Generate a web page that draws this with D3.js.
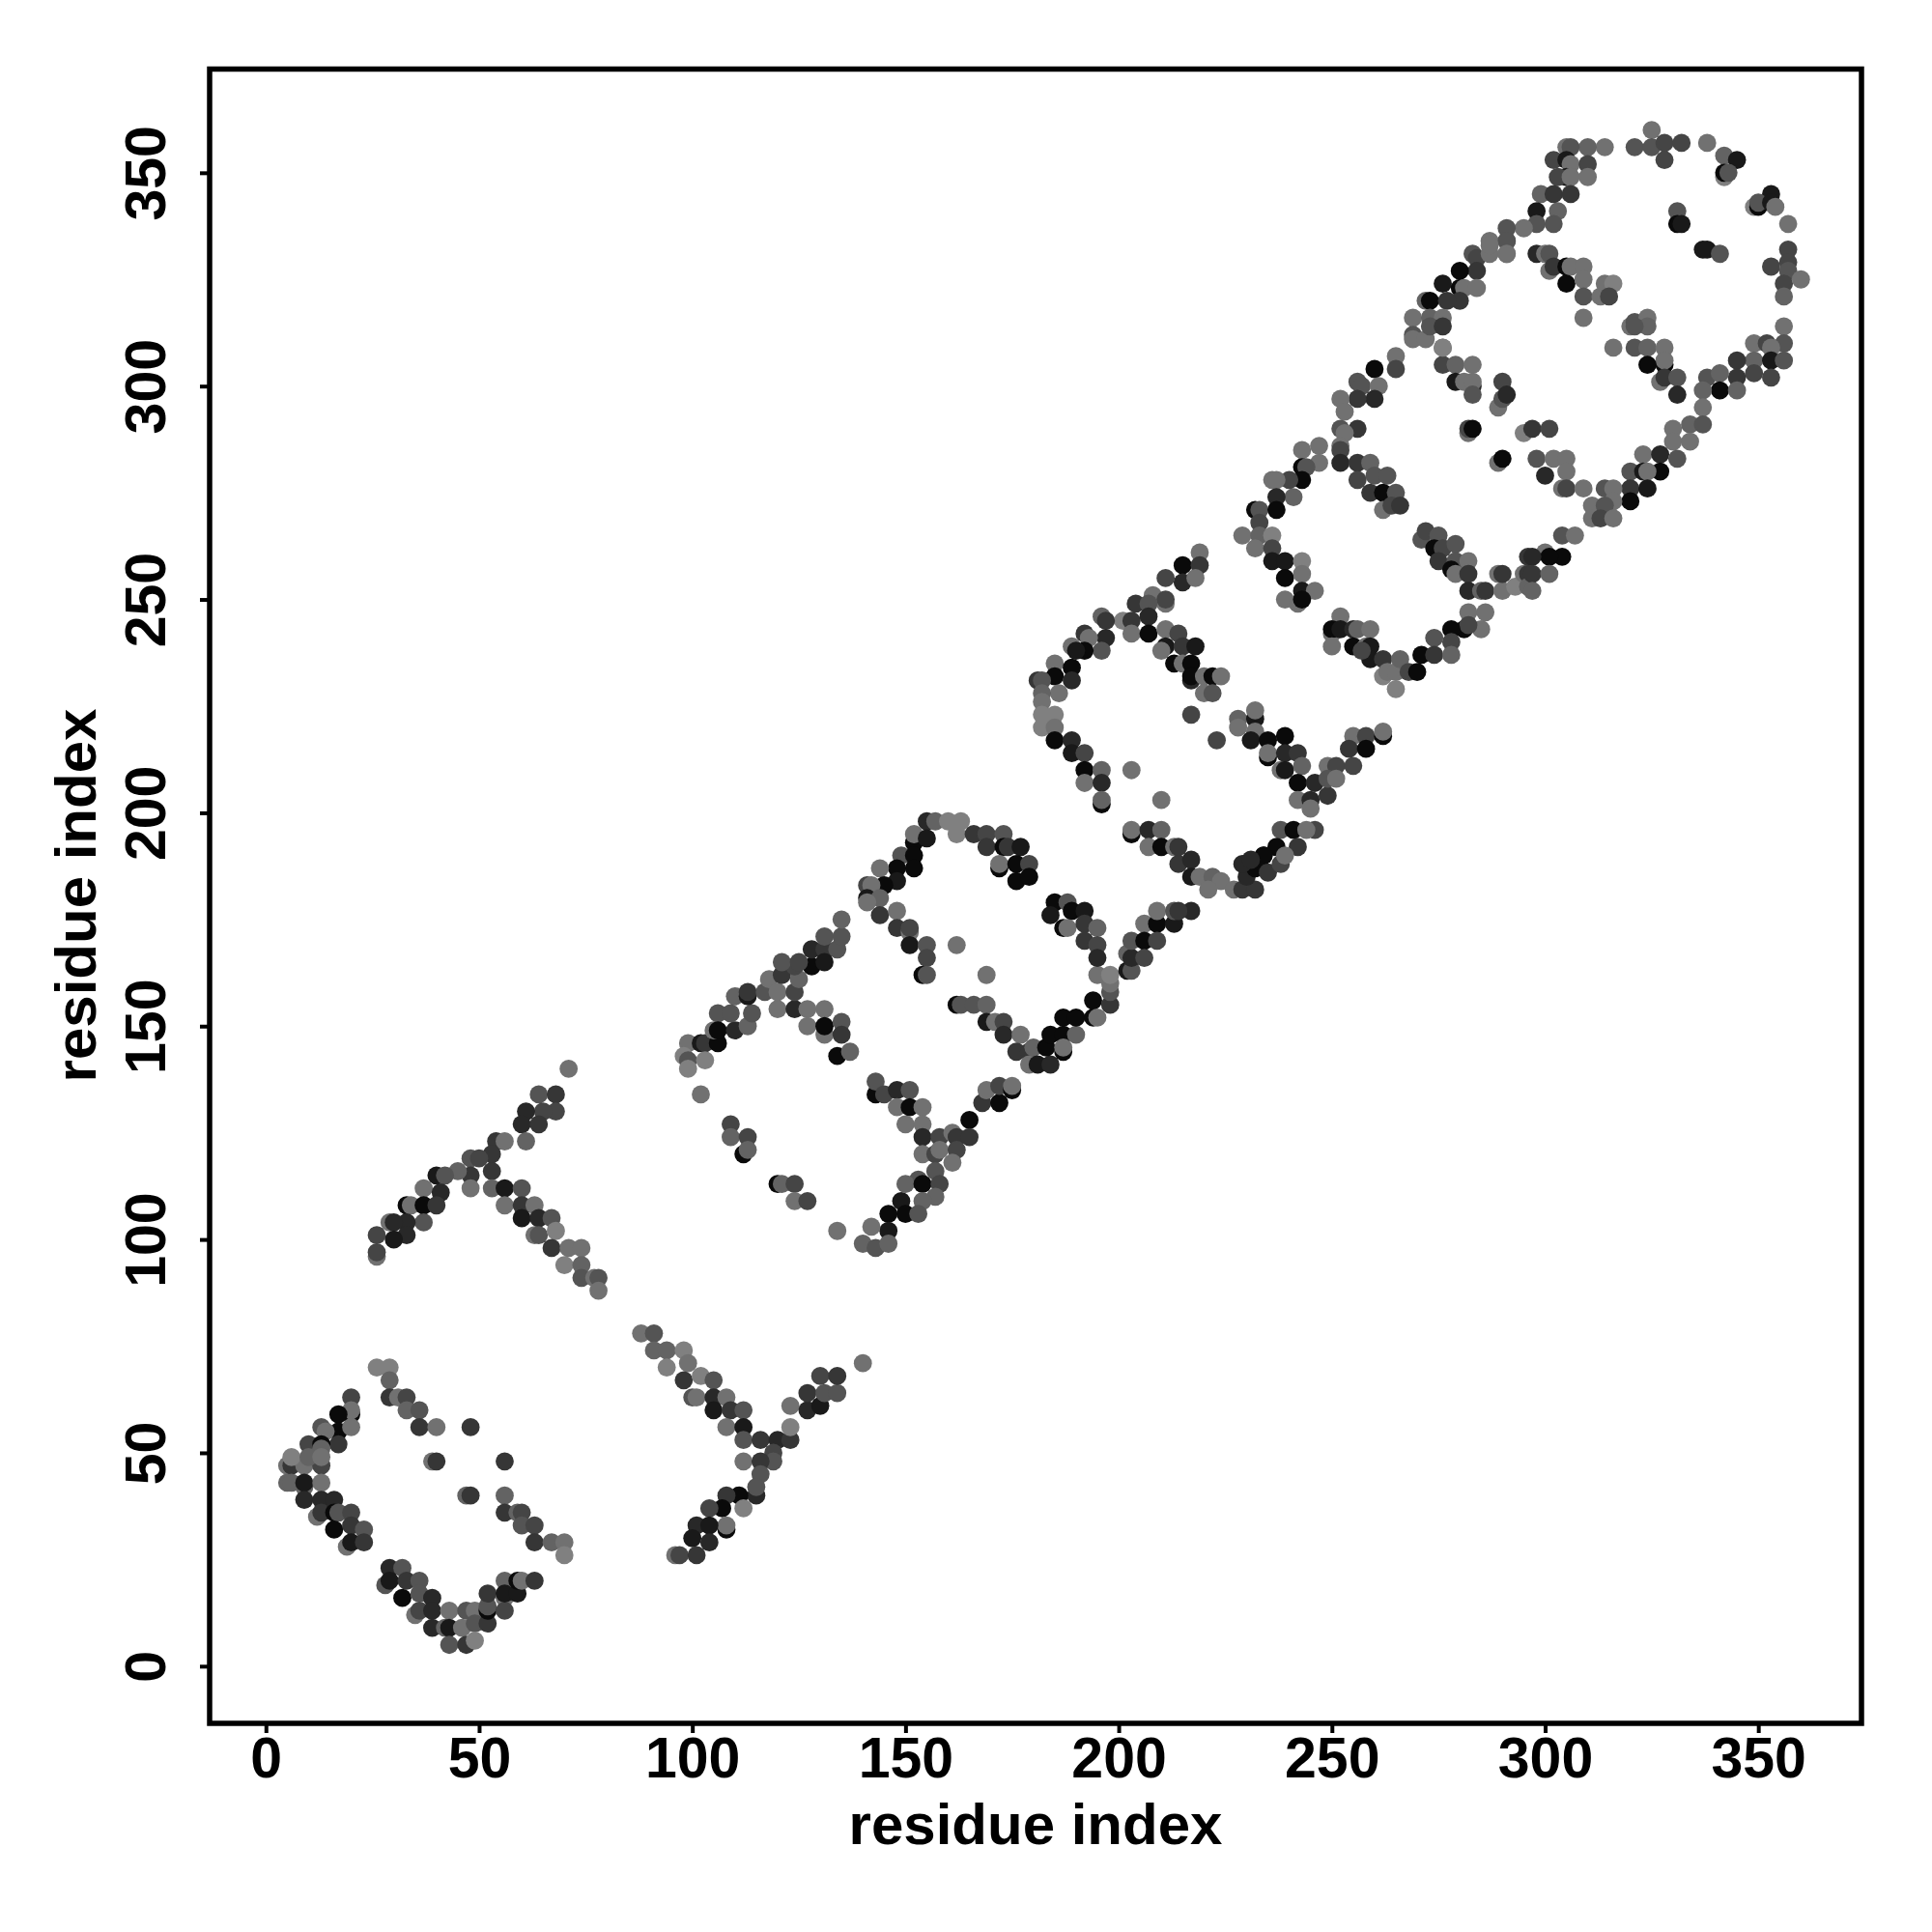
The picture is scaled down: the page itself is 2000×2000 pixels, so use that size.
<!DOCTYPE html>
<html><head><meta charset="utf-8">
<script src="https://cdn.jsdelivr.net/npm/d3@7"></script>
<style>html,body{margin:0;background:#fff}svg{display:block}text{font-family:"Liberation Sans",Arial,sans-serif;font-weight:700;fill:#000}</style>
</head><body><svg id="c" width="2000" height="2000"></svg>
<script>
// each contact: [residue i, residue j, shade level 0 (darkest) .. 8 (lightest)]
const tickValues=[0,50,100,150,200,250,300,350];
const axisTitle="residue index";
const lobeA=[[26,70,8],[29,70,8],[29,67,6],[29,63,3],[31,63,7],[33,63,4],[33,60,6],[36,60,5],[36,56,3],[40,56,7],[48,56,3],[39,48,7],[40,48,3],[56,48,3],[47,40,6],[48,40,3],[56,40,6],[56,36,3],[59,36,6],[60,36,4],[60,33,5],[63,33,4],[63,29,3],[67,29,6],[70,29,7],[70,26,8],
[20,59,0],[20,63,4],[20,60,7],[17,59,0],[17,55,0],[20,56,7],[13,56,5],[14,55,7],[17,52,3],[10,52,4],[13,52,0],[13,51,6],[5,47,7],[6,47,3],[9,47,7],[13,47,4],[6,49,8],[10,49,6],[13,49,7],[9,42,6],[5,43,6],[6,43,6],[9,43,1],[13,43,7],[9,39,2],[13,39,2],[16,39,2],[12,35,7],[13,36,3],[16,36,0],[17,36,5],[20,36,4],[16,32,0],[20,33,3],[23,32,5],[19,28,7],[20,29,1],[23,29,3],
[28,19,5],[29,23,2],[32,23,5],[29,20,1],[33,20,3],[36,20,5],[32,16,0],[36,17,5],[39,16,2],[35,12,7],[36,13,4],[39,13,2],[39,9,2],[43,13,7],[42,9,6],[43,9,1],[43,5,5],[47,13,5],[49,13,7],[46,9,7],[49,10,5],[47,5,3],[49,6,8],[52,10,3],[52,13,0],[52,14,5],[52,17,3],[56,16,7],[56,13,4],[56,20,6],[56,17,1],[59,17,1],[59,20,0],[60,20,7],[63,20,3]];
const armB=[[71,140,7],[64,134,5],[68,134,3],[68,130,4],[65,130,4],[61,130,2],[60,127,2],[64,127,3],[61,123,6],[54,123,3],[56,123,7],[53,120,3],[48,119,5],[50,119,4],[53,116,3],[48,115,3],[45,116,6],[40,115,1],[42,115,5],[48,112,7],[53,112,6],[56,112,1],[60,112,5],[37,112,7],[41,111,2],[56,108,7],[60,108,3],[63,108,7],[33,108,0],[34,108,7],[37,108,0],[40,108,3],[60,105,1],[64,105,2],[67,105,5],[37,104,5],[29,104,7],[33,104,2],[30,104,2],[63,101,7],[64,101,5],[68,102,8],[33,101,2],[30,100,1],[26,101,4],[26,96,7],[26,97,4],[67,98,3],[71,98,7],[74,98,7],[70,94,8],[74,94,6],[74,91,5],[77,91,7],[78,91,5],[78,88,7]];
const armC=[[88,78,7],[91,78,5],[91,74,6],[94,74,6],[98,74,8],[94,70,8],[99,71,7],[98,67,3],[102,68,8],[105,67,5],[100,63,5],[101,63,7],[105,63,2],[108,63,7],[105,60,1],[109,60,3],[112,60,5],[108,56,7],[112,56,1],[112,53,5],[116,53,3],[120,53,2],[123,53,3],[123,56,8],[123,61,7],[127,60,2],[130,61,1],[127,64,3],[131,64,5],[134,64,5],[130,68,4],[134,68,3],[140,71,7],[119,50,4],[119,48,5],[112,48,7],[116,48,3],[116,45,5],[115,40,2],[115,42,5],[111,40,0],[108,40,3],[107,37,0],[112,37,8],[104,37,4],[108,32,0],[108,33,7],[101,33,2],[104,33,1],[100,30,1],[104,29,2],[96,26,7],[97,26,4],[101,26,3]];
const lobeD=[[102,134,7],[109,127,4],[109,124,6],[113,124,4],[112,120,0],[113,121,6],[120,113,0],[121,113,6],[124,113,4],[124,109,7],[127,109,4],[134,102,7],
[99,146,7],[98,143,8],[99,142,5],[99,140,8],[102,146,1],[103,146,3],[103,142,8],[106,146,0],[106,153,5],[105,149,7],[106,149,0],[110,149,2],[113,150,6],[114,153,5],[110,157,6],[109,153,5],[113,157,1],[113,158,3],[117,158,5],[118,161,7],[120,154,7],[120,158,7],[121,162,3],[124,154,2],[124,158,4],[125,161,6],[124,164,4],[128,164,0],[127,154,7],[131,154,7],[127,150,7],[131,148,7],[131,150,0],[135,151,5],[135,148,3],[134,143,0],[137,144,6],
[121,165,5],[125,165,4],[128,168,2],[131,168,3],[134,168,5],[131,171,5],[135,171,5],[135,175,6],[131,165,1],
[143,134,0],[143,137,5],[145,134,4],[148,135,2],[151,135,5],[148,131,7],[151,131,0],[154,131,7],[150,127,7],[154,127,7],[154,124,2],[158,124,4],[154,120,7],[157,120,4],[158,121,7],[161,125,7],[162,124,3],[165,128,0],[165,124,3],[162,121,4],[161,118,7],[157,116,5],[153,114,5],[150,113,6],[154,113,0],[158,113,4],[157,110,6],[154,109,6],[149,109,1],[150,106,0],[153,106,5],[146,106,0],[146,102,1],[142,103,7],[140,99,6],[143,98,5],[146,99,6]];
const lobeE=[[155,198,2],[157,198,6],[160,198,8],[163,198,8],[162,195,8],[152,193,0],[152,195,7],[155,194,1],[166,195,3],[169,195,4],[173,195,5],[169,192,3],[173,192,0],[174,192,3],[177,192,1],[172,187,0],[172,188,7],[176,188,0],[179,188,4],[176,184,0],[179,185,0],[149,190,5],[152,190,0],[152,187,0],[148,187,0],[144,187,7],[148,184,1],[145,183,0],[141,183,4],[142,183,7],[141,180,1],[144,180,6],[141,179,7],[144,176,3],[148,177,7],[148,173,3],[151,172,7],[151,173,4],[151,169,1],[155,169,5],[155,166,4],[154,162,0],[155,162,5],[162,169,7],[169,162,7],[162,155,0],[163,155,5],[166,155,5],[169,155,6],[169,151,1],[171,151,7],[173,151,4],[173,148,2],[177,148,7],[176,144,3],[179,144,3],[179,141,7],[180,145,6],[181,141,1],[184,141,2],[183,145,0],[184,148,0],[187,148,0],[187,144,0],[187,145,7],[190,148,6],[187,152,0],[190,152,0],[194,156,0],[198,155,3],[194,152,0],[195,152,7],[198,158,5],[198,160,7],[195,162,7],[198,162,8],
[185,179,0],[184,176,1],[188,179,5],[189,177,0],[192,177,1],[187,173,0],[188,173,7],[192,174,3],[195,173,6],[192,170,3],[195,169,4],[195,166,2],[202,163,1],[203,163,5],[202,167,6],[203,166,2],[203,170,5],[206,174,7],[206,170,0],[206,166,4],[209,174,0],[209,177,7],[209,170,4],[213,174,1],[213,177,5],[217,177,2],[214,177,3],
[168,132,3],[172,132,0],[169,135,7],[172,136,4],[175,135,0],[175,136,7]];
const lobeF=[[219,261,7],[215,258,0],[219,258,3],[211,255,4],[215,254,2],[218,255,7],[208,251,7],[211,249,7],[211,250,4],[204,249,3],[207,249,5],[201,245,8],[203,245,3],[207,246,2],[203,242,7],[207,242,0],[196,246,6],[197,245,3],[197,241,2],[196,238,5],[192,242,3],[193,241,7],[192,238,0],[189,239,7],[190,238,1],[185,235,7],[189,234,0],[185,232,0],[189,231,2],[186,228,7],[181,231,3],[182,231,5],[182,228,6],[182,226,7],[182,223,8],[185,223,8],[182,220,8],[185,220,7],[185,217,0],[189,217,2],[189,214,1],[192,214,4],[192,210,0],[192,207,7],[196,210,6],[196,207,2],[196,202,0],[196,203,6],[203,210,7],[210,203,7],
[203,195,0],[203,196,7],[207,196,2],[210,196,6],[207,192,7],[210,192,0],[213,192,7],[214,192,3],[214,188,3],[217,189,2],[217,185,1],[219,185,7],[222,185,6],[224,184,7],[221,182,7],[227,182,7],[229,182,3],[232,182,3],[230,185,2],[232,187,0],[229,188,2],[235,186,3],[234,190,1],[238,188,4],
[211,243,7],[211,239,1],[210,238,7],[214,242,4],[215,239,3],[218,239,1],[213,235,0],[215,235,7],[217,235,0],[217,231,2],[217,232,0],[220,232,7],[222,232,0],[224,232,7],[220,228,7],[222,228,5],[217,223,4],[223,217,4],[228,222,6],[228,220,7],[232,222,1],[232,224,7],[232,219,7],[231,217,1],[235,217,0],[239,218,0],[235,213,0],[235,214,7],[239,214,2],[242,214,3],[238,210,7],[239,210,1],[243,211,6],[242,207,0],[246,207,2],[242,203,7],[245,203,2],[249,204,3],[245,201,7],[249,211,7],[251,211,4],[249,208,5],[255,211,4],[251,208,7],
[255,218,7],[258,218,4],[262,218,0],[262,219,7],[254,215,3],[258,215,0],
[238,196,5],[241,196,0],[246,196,4],[244,196,7],[237,192,0],[242,192,3],[234,190,0],[231,189,2],[239,190,7]];
const lobeG=[[265,307,7],[265,304,4],[260,304,0],[256,301,5],[257,300,5],[261,300,7],[260,297,2],[256,297,3],[252,297,7],[253,294,7],[256,290,3],[252,290,5],[253,289,7],[252,286,7],[252,285,4],[252,282,2],[247,286,7],[243,285,7],[247,282,7],[243,281,0],[244,281,5],[243,278,0],[240,278,4],[236,278,7],[237,278,7],[241,274,6],[237,274,2],[232,271,0],[233,271,5],[237,271,0],[233,268,4],[229,265,7],[233,265,6],[236,265,8],[232,262,7],[236,262,4],[236,259,1],[239,259,1],[243,259,8],[239,255,0],[243,256,7],[243,252,1],[246,252,7],[239,250,7],[242,249,7],[243,250,0],
[252,246,7],[250,242,7],[250,243,0],[252,243,1],[250,239,7],[255,243,2],[256,243,6],[259,243,7],[255,239,0],[258,239,7],[259,239,1],[259,236,1],[262,236,3],[257,238,4],[262,232,8],[263,233,7],[265,233,7],[265,229,8],[266,236,6],[268,233,4],[270,233,0],
[256,282,3],[259,282,6],[256,278,4],[260,279,5],[263,279,5],[259,275,3],[262,275,0],[265,275,5],[262,271,7],[264,272,4],[266,272,3],
[271,264,5],[272,266,4],[275,265,5],[274,262,0],[276,262,4],[279,263,5],[275,259,3],[279,259,5],[282,259,7],[278,257,0],[279,256,7],[282,256,3],[282,252,2],[285,252,6],[286,252,3],[290,252,7],[289,256,7],[290,256,3],[293,253,8],[296,260,3],[295,256,7],[296,256,3],[296,253,6],
[282,247,7],[286,247,7],[285,243,7],[281,243,0],[282,244,4],[278,243,0],[274,241,5],[278,240,4],[271,237,0],[274,237,3],[278,237,6]];
const lobeH=[[290,301,4],[289,295,7],[290,297,5],[291,298,2],[282,289,7],[282,290,4],[283,290,0],[289,282,7],[290,283,0],[295,289,8],[297,290,3],[301,290,4],[298,283,5],[302,283,7],[305,283,7],
[276,309,7],[276,305,4],[279,305,6],[283,305,7],[279,301,1],[283,300,2],[281,301,7],[283,301,7],[283,298,5],
[298,331,2],[300,331,7],[301,331,5],[301,327,7],[302,328,3],[305,328,0],[306,328,7],[309,328,7],[305,324,0],[309,325,7],[309,321,5],[313,321,7],[314,324,7],[316,324,8],[315,321,4],[309,316,7],[316,309,7],[320,314,7],[321,315,5],[321,309,5],
[283,331,5],[284,330,4],[287,331,7],[291,331,7],[291,334,5],[287,334,7],[284,327,3],[280,327,0],[276,324,1],[280,323,0],[281,323,7],[284,323,7],[280,320,3],[272,320,6],[273,320,0],[277,320,3],[269,316,7],[269,312,5],[269,311,7],[273,316,6],[272,311,7],[276,316,7],[273,314,5],[276,314,3],[276,309,8]];
const lobeI=[[325,360,7],[321,356,5],[325,356,5],[328,357,4],[332,357,4],[328,353,4],[338,357,7],[342,354,6],[345,353,1],[342,349,8],[342,350,0],[343,350,5],[314,356,7],[310,356,6],[305,356,7],[306,356,5],[302,353,4],[305,353,1],[306,352,7],[310,352,4],[305,349,1],[303,349,4],[306,349,7],[310,349,7],[299,345,6],[302,345,3],[306,345,3],[298,341,1],[303,341,6],[298,338,5],[302,338,5],[295,337,7],[291,337,5],[291,334,5],[291,331,7],[287,333,7],
[324,316,7],[324,314,6],[321,314,5],[324,309,6],[328,309,7],[328,305,0],[328,306,7],[324,305,0],[327,301,7],[328,302,3],[331,302,5],[331,298,2],
[331,341,5],[331,338,0],[332,338,1],[337,332,1],[338,332,1],[341,331,5],[353,345,1],[349,342,8],[350,342,0],[350,343,5],[353,343,1],[354,342,7],[357,338,7],[357,332,4],[357,329,4],[353,328,4],[357,327,5],[356,324,4],[360,325,7],[356,321,6],[356,314,7],[349,310,7],[352,310,4],[356,310,5],[353,309,7],[349,306,6],[345,306,3],[353,306,1],[356,306,5],[353,302,4],[349,303,4],[345,302,3],[338,302,5],[341,303,6],[341,299,0],[345,299,6],[337,299,6],[337,295,7],[330,290,7],[334,291,6],[337,291,5],[330,287,7],[334,287,7]];
const lobeJ=[[300,279,2],[305,280,7],[304,276,7],[305,276,4],[309,276,7],[323,284,7],[327,284,2],[331,283,5],[320,280,5],[323,280,1],[327,280,0],[324,280,7],[320,276,3],[324,276,1],[314,276,5],[316,276,7],[320,273,0],[316,273,7],[311,272,7],[314,272,5],[311,269,7],[313,269,4],[316,269,7],
[304,265,5],[307,265,7],[304,260,0],[300,261,7],[301,260,0],[297,260,2],[297,256,3],[301,256,6],[297,252,6]];
const contacts=[lobeA,armB,armC,lobeD,lobeE,lobeF,lobeG,lobeH,lobeI,lobeJ].flat();

const frame={left:217,right:1927,top:71.5,bottom:1784};
const x=d3.scaleLinear().domain([-13.2,374.2]).range([frame.left,frame.right]);
const y=d3.scaleLinear().domain([-13.4,374.3]).range([frame.bottom,frame.top]);
const grey=d3.scaleLinear().domain([0,8]).range(["#0a0a0a","#808080"]);
const svg=d3.select("#c");
svg.append("g").selectAll("circle").data(contacts).join("circle")
  .attr("cx",d=>x(d[0])).attr("cy",d=>y(d[1])).attr("r",9.4).attr("fill",d=>grey(d[2]));
svg.append("rect").attr("x",frame.left).attr("y",frame.top)
  .attr("width",frame.right-frame.left).attr("height",frame.bottom-frame.top)
  .attr("fill","none").attr("stroke","#000").attr("stroke-width",5.5);
const ax=svg.append("g").attr("transform",`translate(0,${frame.bottom})`)
  .call(d3.axisBottom(x).tickValues(tickValues).tickSize(10).tickPadding(0));
const ay=svg.append("g").attr("transform",`translate(${frame.left},0)`)
  .call(d3.axisLeft(y).tickValues(tickValues).tickSize(10).tickPadding(0));
[ax,ay].forEach(g=>{g.select(".domain").remove();g.selectAll("line").attr("stroke","#000").attr("stroke-width",4);});
ax.selectAll("text").attr("font-size",59).attr("y",56).attr("dy",0).attr("text-anchor","middle");
ay.selectAll("text").attr("font-size",59).attr("x",0).attr("y",0).attr("dy",0).attr("text-anchor","middle")
  .attr("transform","translate(-46,0) rotate(-90)");
svg.append("text").attr("x",1072).attr("y",1909).attr("text-anchor","middle").attr("font-size",60).text(axisTitle);
svg.append("text").attr("transform","translate(99,927) rotate(-90)").attr("text-anchor","middle").attr("font-size",60).text(axisTitle);
</script></body></html>
